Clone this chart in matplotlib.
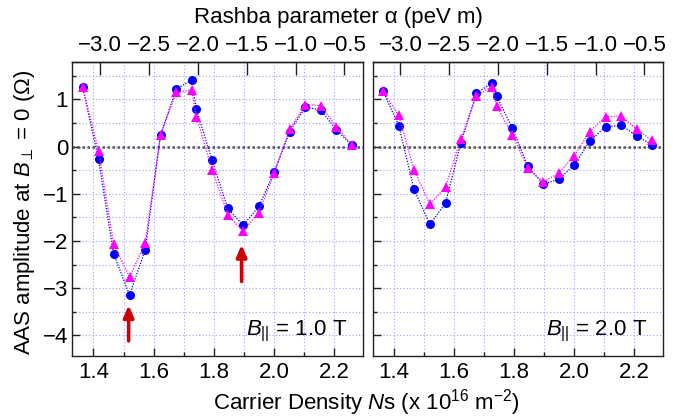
import matplotlib
matplotlib.use("Agg")
import matplotlib.pyplot as plt
import numpy as np
from matplotlib.ticker import MultipleLocator, FixedLocator, FuncFormatter

plt.rcParams['font.family'] = ['Liberation Sans', 'DejaVu Sans']
plt.rcParams['mathtext.fontset'] = 'custom'
plt.rcParams['mathtext.rm'] = 'Liberation Sans'
plt.rcParams['mathtext.it'] = 'Liberation Sans:italic'
plt.rcParams['axes.unicode_minus'] = True

# ---- data ----
Ns = [1.364, 1.417, 1.467, 1.520, 1.572, 1.623, 1.675, 1.726, 1.742, 1.794,
      1.846, 1.897, 1.949, 2.000, 2.052, 2.104, 2.156, 2.207, 2.258]

blue_1T = [1.27, -0.27, -2.27, -3.15, -2.19, 0.25, 1.22, 1.41, 0.79, -0.29,
           -1.31, -1.67, -1.27, -0.54, 0.32, 0.84, 0.77, 0.35, 0.03]
pink_1T = [1.27, -0.09, -2.06, -2.77, -2.04, 0.25, 1.15, 1.20, 0.63, -0.49,
           -1.44, -1.80, -1.40, -0.57, 0.37, 0.89, 0.87, 0.41, 0.04]

blue_2T = [1.18, 0.44, -0.90, -1.65, -1.20, 0.08, 1.13, 1.35, 1.07, 0.39,
           -0.42, -0.80, -0.69, -0.39, 0.12, 0.42, 0.45, 0.23, 0.04]
pink_2T = [1.17, 0.66, -0.49, -1.22, -0.86, 0.17, 1.08, 1.27, 0.86, 0.25,
           -0.46, -0.75, -0.56, -0.19, 0.32, 0.63, 0.65, 0.37, 0.13]

panel_labels = [r"$\mathit{B}_{||}$ = 1.0 T", r"$\mathit{B}_{||}$ = 2.0 T"]

# arrows in left panel: (x, tail y, head y)
arrows_1T = [(1.517, -4.12, -3.36), (1.892, -2.86, -2.08)]

alpha_ticks = [-3.0, -2.5, -2.0, -1.5, -1.0, -0.5]
ns_ticks = [1.4, 1.6, 1.8, 2.0, 2.2]
y_ticks = [-4, -3, -2, -1, 0, 1]

NS0, SLOPE = 1.4223, 0.32436
def ns2alpha(x):
    return (np.asarray(x) - NS0) / SLOPE - 3.0
def alpha2ns(a):
    return (np.asarray(a) + 3.0) * SLOPE + NS0

W, H = 689, 420
fig = plt.figure(figsize=(W / 100, H / 100), dpi=100)

def px(l, t, r, b):
    return [l / W, 1 - b / H, (r - l) / W, (b - t) / H]

ax1 = fig.add_axes(px(72.3, 61.7, 362.7, 356))
ax2 = fig.add_axes(px(372.7, 61.7, 662.7, 356))

grid_col = '#a0a0ff'
fs = 16

def minus_fmt(v, pos):
    return f"{v:.1f}".replace('-', '\u2212')

for i, (ax, b, p, lab) in enumerate([(ax1, blue_1T, pink_1T, panel_labels[0]),
                                      (ax2, blue_2T, pink_2T, panel_labels[1])]):
    ax.set_xlim(1.330, 2.294)
    ax.set_ylim(-4.44, 1.80)
    ax.xaxis.set_major_locator(FixedLocator(ns_ticks))
    ax.xaxis.set_minor_locator(MultipleLocator(0.1))
    ax.yaxis.set_major_locator(FixedLocator(y_ticks))
    ax.yaxis.set_minor_locator(MultipleLocator(0.5))
    ax.xaxis.set_major_formatter(FuncFormatter(lambda v, pos: f"{v:.1f}"))
    ax.grid(which='both', color=grid_col, linestyle=(0, (1, 2)), linewidth=0.8)
    ax.set_axisbelow(True)
    ax.axhline(0, color='#555555', linestyle=(0, (1, 1)), linewidth=1.8, zorder=1.5)
    ax.plot(Ns, b, color='#0000ff', linestyle=(0, (1, 1.2)), linewidth=0.9,
            marker='o', markersize=6.5, markeredgewidth=0, zorder=3)
    ax.plot(Ns, p, color='#ff00ff', linestyle=(0, (1, 1.2)), linewidth=0.9,
            marker='^', markersize=7, markeredgewidth=0, zorder=4)
    ax.tick_params(which='major', direction='in', length=6, width=1, labelsize=fs, pad=4,
                   top=False, right=False, color='#222222')
    ax.tick_params(which='minor', direction='in', length=3, width=1, top=False, right=False,
                   color='#222222')
    ax.tick_params(axis='y', pad=3)
    if i == 1:
        ax.tick_params(axis='y', labelleft=False)
    else:
        ax.yaxis.set_major_formatter(FuncFormatter(lambda v, pos: f"{int(v)}".replace('-', '\u2212')))
    for sp in ax.spines.values():
        sp.set_linewidth(1.0)
        sp.set_color('#222222')
    ax.text(0.946, 0.0714, lab, transform=ax.transAxes, ha='right', va='baseline',
            fontsize=fs)
    sec = ax.secondary_xaxis('top', functions=(ns2alpha, alpha2ns))
    sec.xaxis.set_major_locator(FixedLocator(alpha_ticks))
    sec.xaxis.set_minor_locator(FixedLocator([]))
    sec.xaxis.set_major_formatter(FuncFormatter(minus_fmt))
    sec.tick_params(which='major', direction='in', length=9, width=1, labelsize=fs, pad=4,
                    color='#222222')
    sec.spines['top'].set_linewidth(1.0)
    sec.spines['top'].set_color('#222222')

for (x, ytail, yhead) in arrows_1T:
    ax1.annotate('', xy=(x, yhead), xytext=(x, ytail),
                 arrowprops=dict(arrowstyle='-|>,head_length=0.7,head_width=0.3',
                                 color='#cc0000', linewidth=2.6, shrinkA=0, shrinkB=0),
                 zorder=5)

fig.text(338 / W, 1 - 18 / H, "Rashba parameter \u03b1 (peV m)", ha='center', va='center',
         fontsize=fs)
fig.text(366 / W, 1 - 403 / H, r"Carrier Density $\mathit{N}$s (x 10$^{16}$ m$^{-2}$)",
         ha='center', va='center', fontsize=fs)
fig.text(25 / W, 1 - 212 / H, "AAS amplitude at $\\mathit{B}_{\\perp}$ = 0 (\u03a9)",
         ha='center', va='center', rotation=90, fontsize=fs)

fig.savefig('out.png', dpi=100)
